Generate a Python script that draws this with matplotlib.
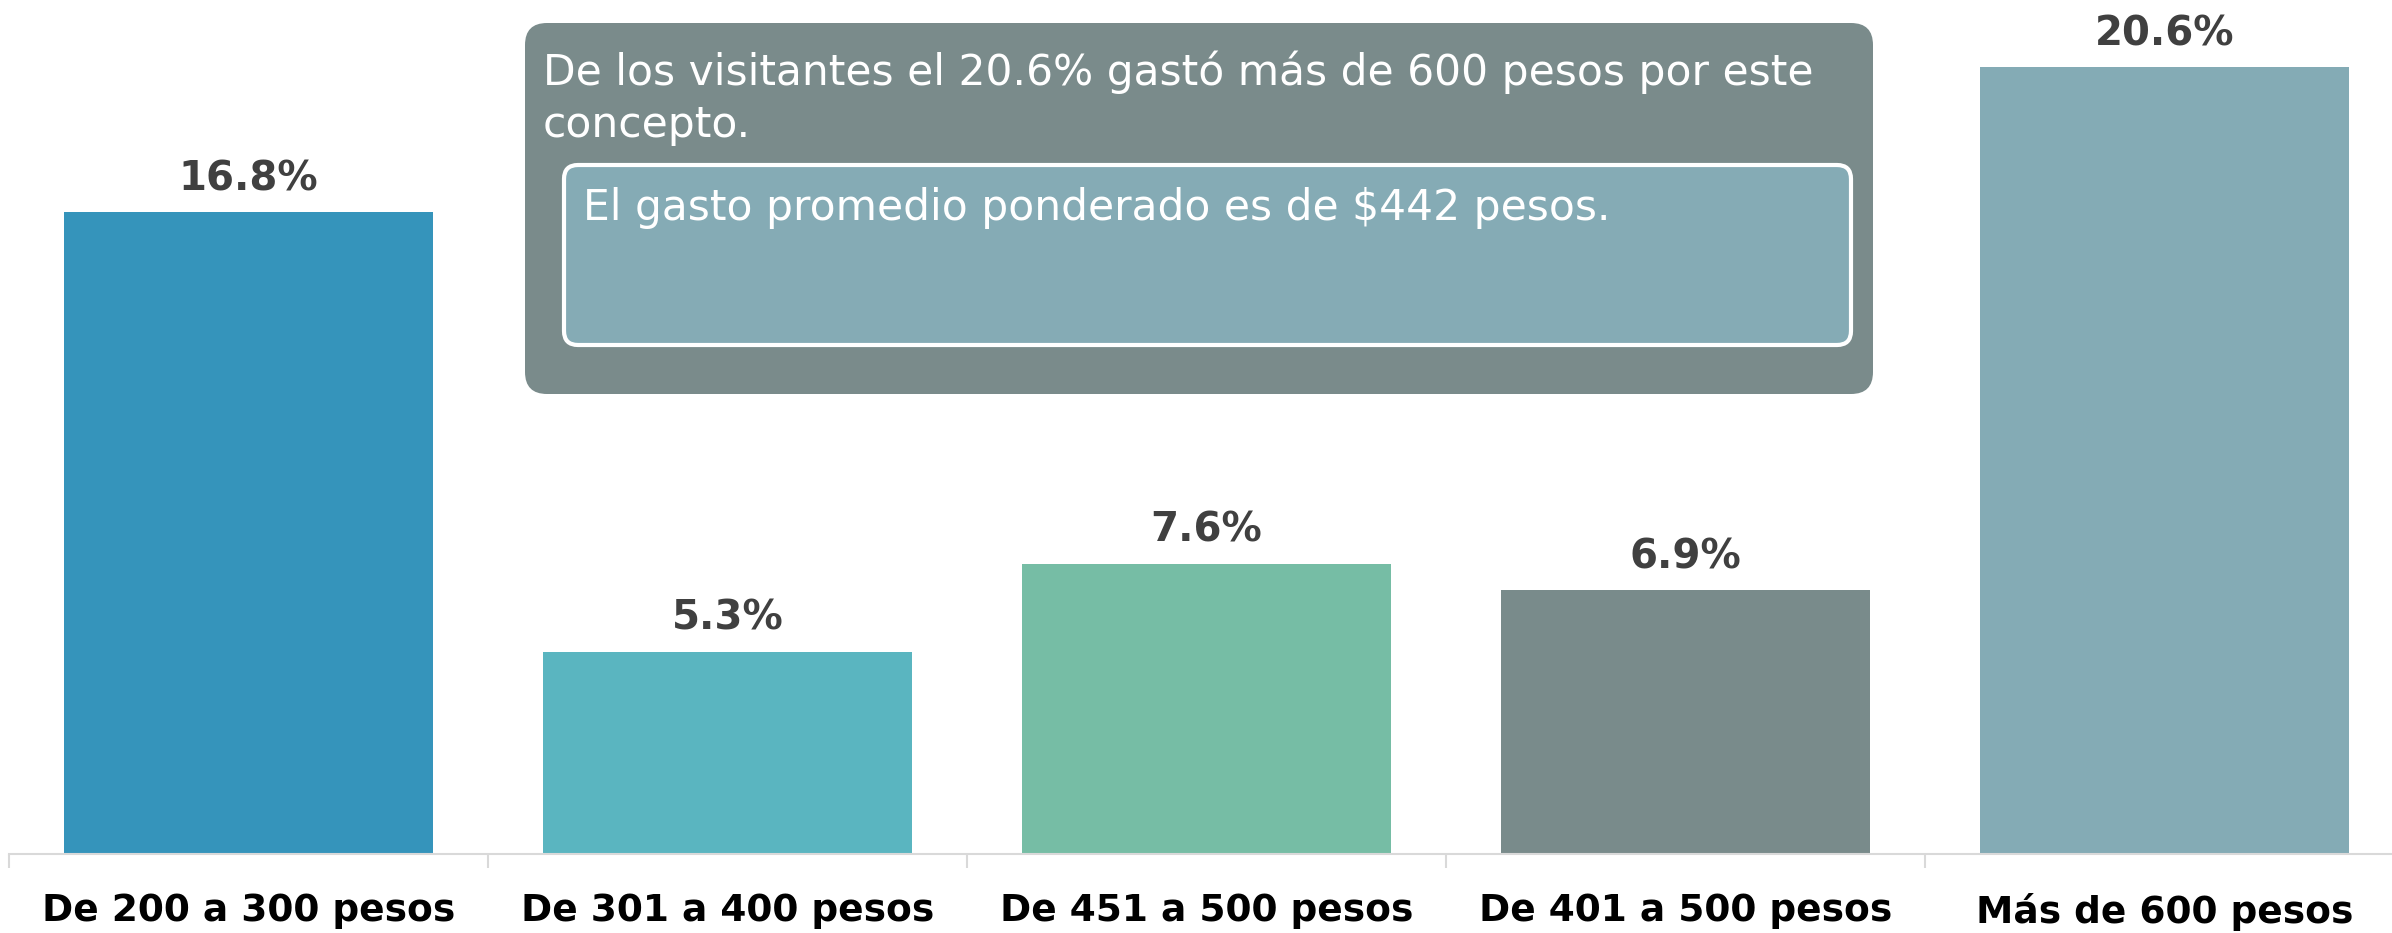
import matplotlib
matplotlib.use("Agg")
import matplotlib.pyplot as plt
from matplotlib.patches import FancyBboxPatch
import numpy as np

categories = ["De 200 a 300 pesos", "De 301 a 400 pesos", "De 451 a 500 pesos",
              "De 401 a 500 pesos", "Más de 600 pesos"]
values = [16.8, 5.3, 7.6, 6.9, 20.6]
colors = ["#3594bb", "#5ab5c0", "#76bda5", "#798b8b", "#84abb5"]
note_line1 = "De los visitantes el 20.6% gastó más de 600 pesos por este"
note_line2 = "concepto."
note_inner = "El gasto promedio ponderado es de $442 pesos."

W, H = 2392, 933
fig = plt.figure(figsize=(W / 100, H / 100), dpi=100)
fig.patch.set_facecolor("white")

# main axes in pixel layout
left_px, base_px = 9, 854
cat_px = 479
px_per_unit = 787 / 20.6
ytop = 22
ax = fig.add_axes([left_px / W, (H - base_px) / H, 5 * cat_px / W, ytop * px_per_unit / H])
x = np.arange(len(categories))
ax.bar(x, values, width=0.77, color=colors, zorder=2)
ax.set_xlim(-0.5, len(categories) - 0.5)
ax.set_ylim(0, ytop)
for xi, v in zip(x, values):
    ax.text(xi, v + 0.57, f"{v}%", ha="center", va="baseline", fontsize=29,
            fontweight="bold", color="#404040", family="DejaVu Sans")

for s in ["top", "right", "left"]:
    ax.spines[s].set_visible(False)
ax.spines["bottom"].set_color("#d9d9d9")
ax.spines["bottom"].set_linewidth(1.5)
ax.set_yticks([])
ax.set_xticks(x)
ax.set_xticklabels(categories, fontsize=27, fontweight="bold", color="black")
ax.tick_params(axis="x", which="major", length=0, pad=28)
ax.set_xticks(np.arange(-0.5, len(categories), 1.0), minor=True)
ax.tick_params(axis="x", which="minor", length=10, color="#d9d9d9", width=1.5)

# overlay for callout (pixel coordinates)
ov = fig.add_axes([0, 0, 1, 1])
ov.set_xlim(0, W)
ov.set_ylim(H, 0)
ov.axis("off")
ov.patch.set_alpha(0)
outer = FancyBboxPatch((525, 23), 1873 - 525, 394 - 23,
                       boxstyle="round,pad=0,rounding_size=22",
                       facecolor="#7a8b8b", edgecolor="none", zorder=3)
ov.add_patch(outer)
inner = FancyBboxPatch((564, 165), 1851 - 564, 345 - 165,
                       boxstyle="round,pad=0,rounding_size=14",
                       facecolor="#85abb5", edgecolor="white", linewidth=3, zorder=4)
ov.add_patch(inner)
ov.text(543, 85, note_line1, ha="left", va="baseline", fontsize=30.5, color="white", zorder=5)
ov.text(543, 137, note_line2, ha="left", va="baseline", fontsize=30.5, color="white", zorder=5)
ov.text(583, 220, note_inner, ha="left", va="baseline", fontsize=30.5, color="white", zorder=5)

fig.savefig("out.png", dpi=100)
